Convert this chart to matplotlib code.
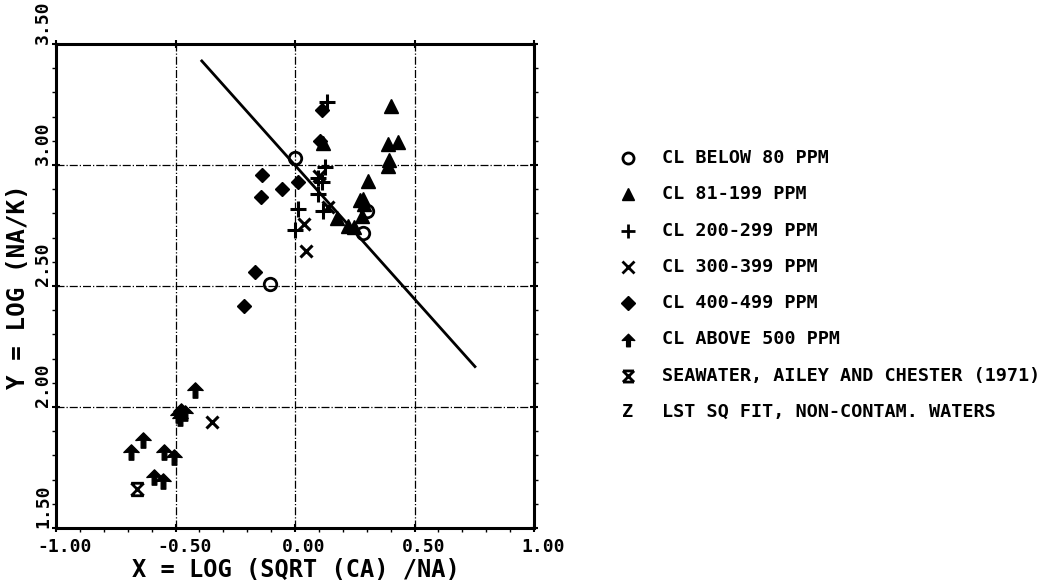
import matplotlib
matplotlib.use("Agg")
import matplotlib.pyplot as plt
import matplotlib.transforms as mtransforms
from matplotlib.path import Path
import numpy as np

# ---------------- data ----------------
below80_x = [0.00, -0.105, 0.30, 0.285]
below80_y = [3.03, 2.51, 2.81, 2.72]

cl81_x = [0.40, 0.117, 0.389, 0.431, 0.393, 0.388, 0.305, 0.175, 0.27, 0.285, 0.29, 0.28, 0.22, 0.245]
cl81_y = [3.245, 3.09, 3.087, 3.096, 3.02, 2.995, 2.934, 2.78, 2.855, 2.86, 2.84, 2.79, 2.75, 2.745]

cl200_x = [0.134, 0.125, 0.097, 0.115, 0.097, 0.013, 0.0, 0.117]
cl200_y = [3.26, 2.99, 2.946, 2.93, 2.88, 2.82, 2.73, 2.81]

cl300_x = [0.10, 0.038, 0.046, 0.138, -0.347]
cl300_y = [2.955, 2.756, 2.645, 2.826, 1.939]

cl400_x = [0.113, 0.105, -0.138, -0.142, -0.054, 0.012, -0.167, -0.213]
cl400_y = [3.227, 3.10, 2.96, 2.868, 2.90, 2.93, 2.558, 2.419]

above500_x = [-0.418, -0.49, -0.475, -0.462, -0.482, -0.636, -0.686, -0.548, -0.506, -0.59, -0.552]
above500_y = [2.07, 1.965, 1.985, 1.975, 1.955, 1.864, 1.814, 1.814, 1.793, 1.71, 1.694]

seawater_x = [-0.661]
seawater_y = [1.66]

fit_x = [-0.39, 0.753]
fit_y = [3.43, 2.167]

x_ticks = [-1.0, -0.5, 0.0, 0.5, 1.0]
x_ticklabels = ["-1.00", "-0.50", "0.00", "0.50", "1.00"]
y_ticks = [1.5, 2.0, 2.5, 3.0, 3.5]
y_ticklabels = ["1.50", "2.00", "2.50", "3.00", "3.50"]

legend_labels = [
    "CL BELOW 80 PPM",
    "CL 81-199 PPM",
    "CL 200-299 PPM",
    "CL 300-399 PPM",
    "CL 400-499 PPM",
    "CL ABOVE 500 PPM",
    "SEAWATER, AILEY AND CHESTER (1971)",
    "LST SQ FIT, NON-CONTAM. WATERS",
]

# ---------------- custom markers ----------------
spade = Path([(0, 1), (1, 0), (0.3, 0.05), (0.3, -1), (-0.3, -1),
              (-0.3, 0.05), (-1, 0), (0, 1)],
             [Path.MOVETO] + [Path.LINETO] * 6 + [Path.CLOSEPOLY])
sea = Path([(-1, 1), (1, 1), (-1, -1), (1, -1), (-1, 1), (1, -1), (1, 1), (-1, -1)],
           [Path.MOVETO, Path.LINETO] * 4)

FONT = "DejaVu Sans Mono"
plt.rcParams["font.family"] = FONT
plt.rcParams["font.weight"] = "bold"

fig = plt.figure(figsize=(10.62, 5.82), dpi=100)
W, H = 1062, 582
ax = fig.add_axes([56 / W, 1 - 528 / H, (534 - 56) / W, (528 - 44) / H])
ax.set_xlim(-1.0, 1.0)
ax.set_ylim(1.5, 3.5)

# grid
ax.grid(True, which="major", linestyle="-.", linewidth=0.9, color="black")
for sp in ax.spines.values():
    sp.set_linewidth(2.2)

ax.set_xticks(x_ticks)
ax.set_yticks(y_ticks)
ax.set_xticks(np.arange(-1.0, 1.001, 0.1), minor=True)
ax.set_yticks(np.arange(1.5, 3.501, 0.1), minor=True)
ax.tick_params(which="major", length=6, width=1.5, direction="inout",
               labelbottom=False, labelleft=False, right=True, top=True)
ax.tick_params(which="minor", length=3, width=1.0, direction="out",
               right=True, top=False)

# fit line
ax.plot(fit_x, fit_y, color="black", linewidth=2.0, zorder=3)

kw = dict(linestyle="none", color="black", zorder=4)
ax.plot(below80_x, below80_y, marker="o", markersize=9, markerfacecolor="none",
        markeredgewidth=2.0, **kw)
ax.plot(cl81_x, cl81_y, marker="^", markersize=10, **kw)
ax.plot(cl200_x, cl200_y, marker="+", markersize=12, markeredgewidth=2.2, **kw)
ax.plot(cl300_x, cl300_y, marker="x", markersize=9, markeredgewidth=2.2, **kw)
ax.plot(cl400_x, cl400_y, marker="D", markersize=7.5, **kw)
ax.plot(above500_x, above500_y, marker=spade, markersize=11, **kw)
ax.plot(seawater_x, seawater_y, marker=sea, markersize=9, markerfacecolor="none",
        markeredgewidth=2.0, **kw)

# tick labels drawn manually
xoff = mtransforms.ScaledTranslation(9 / 100, -10 / 100, fig.dpi_scale_trans)
xtr = mtransforms.blended_transform_factory(ax.transData, ax.transAxes) + xoff
for v, s in zip(x_ticks, x_ticklabels):
    ax.text(v, 0, s, transform=xtr, ha="center", va="top", fontsize=13,
            fontweight="bold", clip_on=False)
yoff = mtransforms.ScaledTranslation(-4 / 100, 0, fig.dpi_scale_trans)
ytr = mtransforms.blended_transform_factory(ax.transAxes, ax.transData) + yoff
for v, s in zip(y_ticks, y_ticklabels):
    ax.text(0, v, s, transform=ytr, ha="right", va="bottom", rotation=90,
            fontsize=13, fontweight="bold", clip_on=False)

# axis labels
fig.text(296 / W, 1 - 570 / H, "X = LOG (SQRT (CA) /NA)", ha="center", va="center",
         fontsize=17, fontweight="bold")
fig.text(18 / W, 1 - 287 / H, "Y = LOG (NA/K)", ha="center", va="center",
         rotation=90, fontsize=17.5, fontweight="bold")

# legend drawn manually
lax = fig.add_axes([0, 0, 1, 1])
lax.set_xlim(0, W)
lax.set_ylim(H, 0)
lax.axis("off")
leg_markers = [
    dict(marker="o", markersize=8, markerfacecolor="none", markeredgewidth=2.0),
    dict(marker="^", markersize=8),
    dict(marker="+", markersize=10, markeredgewidth=2.0),
    dict(marker="x", markersize=8, markeredgewidth=2.0),
    dict(marker="D", markersize=7),
    dict(marker=spade, markersize=9),
    dict(marker=sea, markersize=8, markerfacecolor="none", markeredgewidth=2.0),
    None,
]
y0, dy = 158, 36.3
for i, (lab, mk) in enumerate(zip(legend_labels, leg_markers)):
    yy = y0 + i * dy
    if mk is None:
        lax.text(628, yy, "Z", ha="center", va="center", fontsize=13.3,
                 fontweight="bold")
    else:
        lax.plot([628], [yy], linestyle="none", color="black", **mk)
    lax.text(662, yy, lab, ha="left", va="center", fontsize=13.3, fontweight="bold")

fig.savefig("out.png", dpi=100)
